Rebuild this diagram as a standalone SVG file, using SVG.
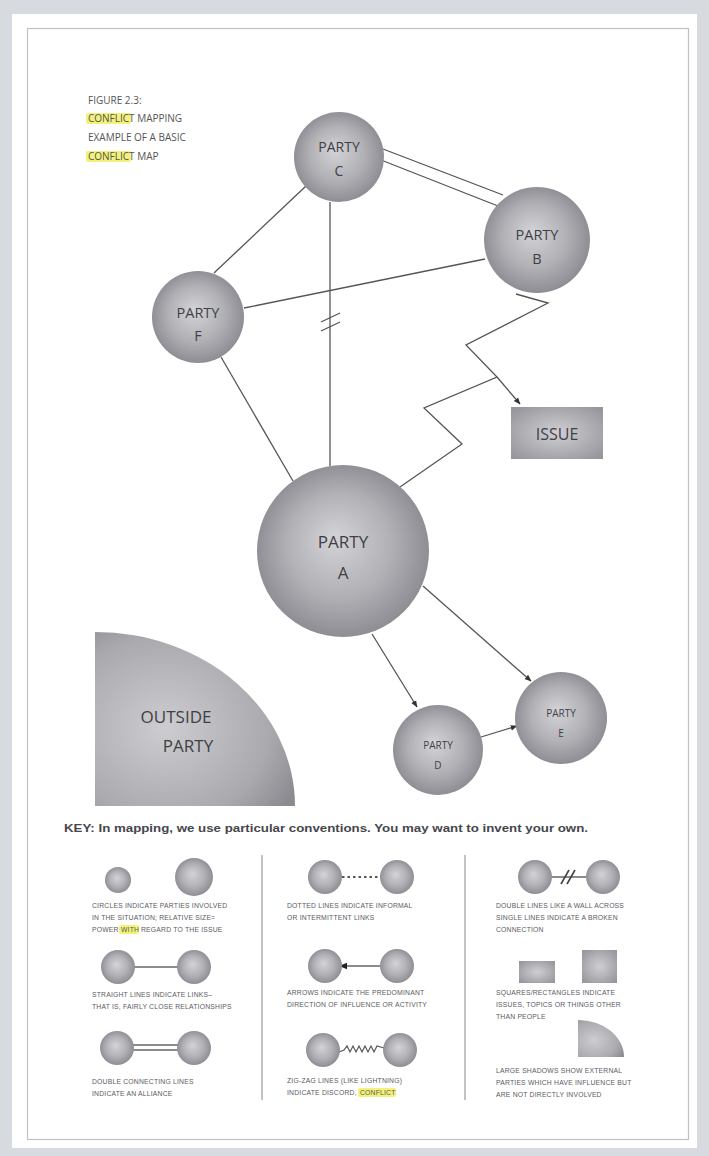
<svg xmlns="http://www.w3.org/2000/svg" width="709" height="1156" viewBox="0 0 709 1156">
  <defs>
    <radialGradient id="sphere" cx="50%" cy="50%" r="55%" fx="45%" fy="42%">
      <stop offset="0" stop-color="#d4d4d8"/>
      <stop offset="0.55" stop-color="#b0b0b5"/>
      <stop offset="1" stop-color="#86868d"/>
    </radialGradient>
    <radialGradient id="boxFill" cx="50%" cy="50%" r="65%">
      <stop offset="0" stop-color="#cfcfd3"/>
      <stop offset="1" stop-color="#96969c"/>
    </radialGradient>
    <radialGradient id="shadowFill" gradientUnits="objectBoundingBox" cx="0.35" cy="0.55" r="0.75">
      <stop offset="0" stop-color="#cdcdd1"/>
      <stop offset="0.7" stop-color="#a9a9ae"/>
      <stop offset="1" stop-color="#8a8a90"/>
    </radialGradient>
    <marker id="arrow" viewBox="0 0 10 10" refX="9" refY="5" markerWidth="7" markerHeight="7" orient="auto" markerUnits="userSpaceOnUse">
      <path d="M0,1 L10,5 L0,9 z" fill="#333"/>
    </marker>
    <marker id="arrowSmall" viewBox="0 0 10 10" refX="5" refY="5" markerWidth="8" markerHeight="8" orient="auto" markerUnits="userSpaceOnUse">
      <path d="M0,1 L10,5 L0,9 z" fill="#222"/>
    </marker>
  </defs>
  <style>
    .ball { fill: url(#sphere); }
    .link { stroke: #555; stroke-width: 1.3; fill: none; }
    .klink { stroke: #666; stroke-width: 1.6; fill: none; }
    .plabel { font-family: "Open Sans", "Liberation Sans", sans-serif; fill: #3f3f45; text-anchor: middle; }
    .title { font-family: "Open Sans", "Liberation Sans", sans-serif; font-size: 10px; fill: #555; }
    .keytxt { font-family: "Liberation Sans", sans-serif; font-size: 6.8px; letter-spacing: 0.2px; fill: #5a5a5f; }
    .hl { fill: #f2f27a; }
    .divider { stroke: #9a9a9a; stroke-width: 1.2; }
  </style>

  <!-- page frame -->
  <rect x="0" y="0" width="709" height="1156" fill="#d7dadf"/>
  <rect x="12" y="14" width="685" height="1134" fill="#ffffff"/>
  <rect x="27.5" y="28.5" width="661" height="1111" fill="none" stroke="#bfc1c5" stroke-width="1.2"/>

  <!-- caption -->
  <g id="caption">
    <rect class="hl" x="86" y="113" width="45" height="11" rx="2"/>
    <rect class="hl" x="86" y="151" width="45" height="11" rx="2"/>
    <text class="title" x="88" y="104">FIGURE 2.3:</text>
    <text class="title" x="88" y="122">CONFLICT MAPPING</text>
    <text class="title" x="88" y="141">EXAMPLE OF A BASIC</text>
    <text class="title" x="88" y="160">CONFLICT MAP</text>
  </g>

  <!-- connectors -->
  <g id="connectors">
    <line class="link" x1="306" y1="186" x2="214" y2="273"/>
    <line class="link" x1="383" y1="149" x2="503" y2="195"/>
    <line class="link" x1="381" y1="160" x2="498" y2="206"/>
    <line class="link" x1="244" y1="308" x2="485" y2="259"/>
    <line class="link" x1="330" y1="202" x2="330" y2="466"/>
    <line class="link" x1="321" y1="322" x2="340" y2="313"/>
    <line class="link" x1="321" y1="331" x2="340" y2="322"/>
    <line class="link" x1="221" y1="357" x2="293" y2="481"/>
    <polyline class="link" points="516,294 548,303 466,345 497,377 424,408 462,444 400,487"/>
    <line class="link" x1="497" y1="377" x2="520" y2="404" marker-end="url(#arrow)"/>
    <line class="link" x1="372" y1="634" x2="417" y2="707" marker-end="url(#arrow)"/>
    <line class="link" x1="423" y1="586" x2="531" y2="681" marker-end="url(#arrow)"/>
    <line class="link" x1="481" y1="737" x2="517" y2="726" marker-end="url(#arrow)"/>
  </g>

  <!-- parties -->
  <g id="party-c">
    <circle class="ball" cx="339" cy="157" r="45"/>
    <text class="plabel" x="339" y="152" font-size="14">PARTY</text>
    <text class="plabel" x="339" y="176" font-size="14">C</text>
  </g>
  <g id="party-b">
    <circle class="ball" cx="537" cy="240" r="53"/>
    <text class="plabel" x="537" y="240" font-size="14.5">PARTY</text>
    <text class="plabel" x="537" y="264" font-size="14.5">B</text>
  </g>
  <g id="party-f">
    <circle class="ball" cx="198" cy="317" r="46"/>
    <text class="plabel" x="198" y="318" font-size="14.5">PARTY</text>
    <text class="plabel" x="198" y="341" font-size="14.5">F</text>
  </g>
  <g id="party-a">
    <circle class="ball" cx="343" cy="551" r="86"/>
    <text class="plabel" x="343" y="548" font-size="17">PARTY</text>
    <text class="plabel" x="343" y="579" font-size="17">A</text>
  </g>
  <g id="party-d">
    <circle class="ball" cx="438" cy="750" r="45"/>
    <text class="plabel" x="438" y="749" font-size="10">PARTY</text>
    <text class="plabel" x="438" y="769" font-size="10">D</text>
  </g>
  <g id="party-e">
    <circle class="ball" cx="561" cy="718" r="46"/>
    <text class="plabel" x="561" y="717" font-size="10">PARTY</text>
    <text class="plabel" x="561" y="737" font-size="10">E</text>
  </g>
  <g id="issue">
    <rect x="511" y="407" width="92" height="52" fill="url(#boxFill)"/>
    <text class="plabel" x="557" y="440" font-size="16">ISSUE</text>
  </g>
  <g id="outside-party">
    <path d="M95,806 L95,632 A200,174 0 0 1 295,806 Z" fill="url(#shadowFill)"/>
    <text class="plabel" x="176" y="723" font-size="17">OUTSIDE</text>
    <text class="plabel" x="188" y="752" font-size="17">PARTY</text>
  </g>

  <!-- key -->
  <g id="key">
    <text x="64" y="832" font-family="Liberation Sans, sans-serif" font-weight="bold" font-size="11" fill="#46464b" textLength="524" lengthAdjust="spacingAndGlyphs">KEY:  In mapping, we use particular conventions. You may want to invent your own.</text>
    <line class="divider" x1="262" y1="855" x2="262" y2="1100"/>
    <line class="divider" x1="465" y1="855" x2="465" y2="1100"/>

    <!-- column 1 -->
    <g id="key-circles">
      <circle class="ball" cx="118" cy="880" r="13"/>
      <circle class="ball" cx="194" cy="877" r="19"/>
      <rect class="hl" x="119" y="925" width="20" height="9" rx="2"/>
      <text class="keytxt" x="92" y="908">CIRCLES INDICATE PARTIES INVOLVED</text>
      <text class="keytxt" x="92" y="920">IN THE SITUATION; RELATIVE SIZE=</text>
      <text class="keytxt" x="92" y="932">POWER</text>
      <text class="keytxt" x="121" y="932">WITH</text>
      <text class="keytxt" x="141" y="932">REGARD TO THE ISSUE</text>
    </g>
    <g id="key-straight">
      <line class="klink" x1="134" y1="967" x2="178" y2="967"/>
      <circle class="ball" cx="118" cy="967" r="17"/>
      <circle class="ball" cx="194" cy="967" r="17"/>
      <text class="keytxt" x="92" y="997">STRAIGHT LINES INDICATE LINKS–</text>
      <text class="keytxt" x="92" y="1009">THAT IS, FAIRLY CLOSE RELATIONSHIPS</text>
    </g>
    <g id="key-double">
      <line class="klink" x1="133" y1="1045" x2="178" y2="1045"/>
      <line class="klink" x1="133" y1="1050" x2="178" y2="1050"/>
      <circle class="ball" cx="117" cy="1048" r="17"/>
      <circle class="ball" cx="194" cy="1048" r="17"/>
      <text class="keytxt" x="92" y="1084">DOUBLE CONNECTING LINES</text>
      <text class="keytxt" x="92" y="1096">INDICATE AN ALLIANCE</text>
    </g>

    <!-- column 2 -->
    <g id="key-dotted">
      <line x1="342" y1="877" x2="381" y2="877" stroke="#555" stroke-width="2" stroke-dasharray="2.5 3"/>
      <circle class="ball" cx="325" cy="877" r="17"/>
      <circle class="ball" cx="397" cy="877" r="17"/>
      <text class="keytxt" x="287" y="908">DOTTED LINES INDICATE INFORMAL</text>
      <text class="keytxt" x="287" y="920">OR INTERMITTENT LINKS</text>
    </g>
    <g id="key-arrow">
      <line class="klink" x1="381" y1="966" x2="343" y2="966" marker-end="url(#arrowSmall)"/>
      <circle class="ball" cx="325" cy="966" r="17"/>
      <circle class="ball" cx="397" cy="966" r="17"/>
      <text class="keytxt" x="287" y="995">ARROWS INDICATE THE PREDOMINANT</text>
      <text class="keytxt" x="287" y="1007">DIRECTION OF INFLUENCE OR ACTIVITY</text>
    </g>
    <g id="key-zigzag">
      <polyline points="339,1052 344,1050 347,1046 350,1052 353,1046 356,1052 359,1046 362,1052 365,1046 368,1052 371,1046 374,1052 377,1046 384,1048" fill="none" stroke="#555" stroke-width="1.2"/>
      <circle class="ball" cx="323" cy="1050" r="17"/>
      <circle class="ball" cx="400" cy="1050" r="17"/>
      <rect class="hl" x="358" y="1088" width="38" height="9" rx="2"/>
      <text class="keytxt" x="287" y="1083">ZIG-ZAG LINES (LIKE LIGHTNING)</text>
      <text class="keytxt" x="287" y="1095">INDICATE DISCORD,</text>
      <text class="keytxt" x="360" y="1095">CONFLICT</text>
    </g>

    <!-- column 3 -->
    <g id="key-broken">
      <line class="klink" x1="551" y1="877" x2="587" y2="877"/>
      <line x1="561" y1="884" x2="569" y2="870" stroke="#444" stroke-width="1.6"/>
      <line x1="567" y1="884" x2="575" y2="870" stroke="#444" stroke-width="1.6"/>
      <circle class="ball" cx="535" cy="877" r="17"/>
      <circle class="ball" cx="603" cy="877" r="17"/>
      <text class="keytxt" x="496" y="908">DOUBLE LINES LIKE A WALL ACROSS</text>
      <text class="keytxt" x="496" y="920">SINGLE LINES INDICATE A BROKEN</text>
      <text class="keytxt" x="496" y="932">CONNECTION</text>
    </g>
    <g id="key-squares">
      <rect x="519" y="961" width="36" height="22" fill="url(#boxFill)"/>
      <rect x="582" y="950" width="35" height="33" fill="url(#boxFill)"/>
      <text class="keytxt" x="496" y="995">SQUARES/RECTANGLES INDICATE</text>
      <text class="keytxt" x="496" y="1007">ISSUES, TOPICS OR THINGS OTHER</text>
      <text class="keytxt" x="496" y="1019">THAN PEOPLE</text>
    </g>
    <g id="key-shadow">
      <path d="M578,1057 L578,1020 A46,37 0 0 1 624,1057 Z" fill="url(#shadowFill)"/>
      <text class="keytxt" x="496" y="1073">LARGE SHADOWS SHOW EXTERNAL</text>
      <text class="keytxt" x="496" y="1085">PARTIES WHICH HAVE INFLUENCE BUT</text>
      <text class="keytxt" x="496" y="1097">ARE NOT DIRECTLY INVOLVED</text>
    </g>
  </g>
</svg>
